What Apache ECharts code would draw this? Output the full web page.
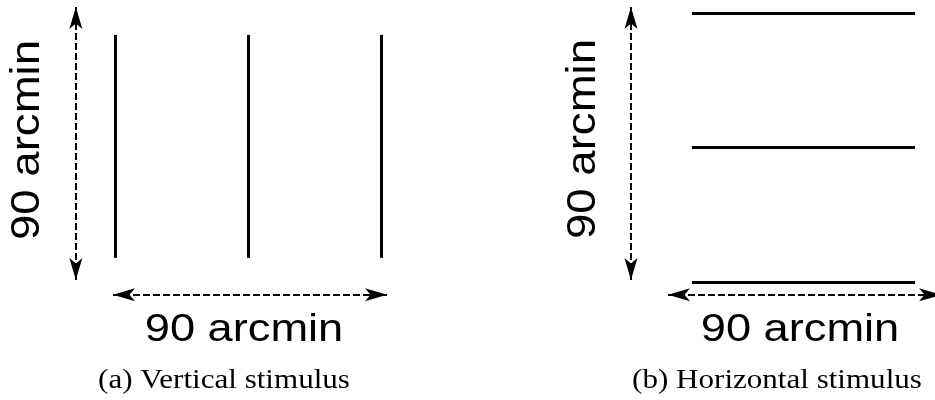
<!DOCTYPE html>
<html><head><meta charset="utf-8">
<script src="https://cdn.jsdelivr.net/npm/echarts@6/dist/echarts.min.js"></script>
<style>html,body{margin:0;padding:0;background:#fff}#c{width:935px;height:400px}</style>
</head><body><div id="c"></div>
<script>
// All values in arcmin (each panel spans 0..90 arcmin along both arrows)
const span = [0, 90];
// (a) vertical stimulus: three vertical bars
const vBarX = [0.7, 44.3, 88.0];
const vBarY = [7.3, 80.8];
// (b) horizontal stimulus: three horizontal bars
const hBarY = [88.0, 43.9, -0.7];
const hBarX = [7.9, 81.4];
// dimension arrows positions (outside the stimulus)
const vArrowX = -12.2;
const hArrowY = -4.9;
const sizeLabel = '90 arcmin';
const captions = ['(a) Vertical stimulus', '(b) Horizontal stimulus'];

// arrowhead pointing up; tip sits at the centre of the symbol box
const arrowPath = 'path://M0,-20 M10,20 M5,0 L10,20 L5,15 L0,20 Z';

function panelSeries(idx, bars) {
  const arrows = [
    [[vArrowX, span[0]], [vArrowX, span[1]]],
    [[span[0], hArrowY], [span[1], hArrowY]]
  ];
  const heads = [
    { value: arrows[0][0], symbolRotate: 180 },
    { value: arrows[0][1], symbolRotate: 0 },
    { value: arrows[1][0], symbolRotate: 90 },
    { value: arrows[1][1], symbolRotate: -90 }
  ];
  return [
    {
      type: 'lines', coordinateSystem: 'cartesian2d', xAxisIndex: idx, yAxisIndex: idx,
      clip: false, silent: true, polyline: false,
      symbol: ['none', 'none'],
      lineStyle: { color: '#000', width: 3, type: 'solid', opacity: 1 },
      data: bars
    },
    {
      type: 'lines', coordinateSystem: 'cartesian2d', xAxisIndex: idx, yAxisIndex: idx,
      clip: false, silent: true, polyline: false,
      symbol: ['none', 'none'],
      lineStyle: { color: '#000', width: 2, type: [7, 3], opacity: 1 },
      data: arrows.map(c => ({ coords: c }))
    },
    {
      type: 'scatter', xAxisIndex: idx, yAxisIndex: idx, clip: false, silent: true,
      symbol: arrowPath, symbolSize: [13, 44],
      itemStyle: { color: '#000', opacity: 1 },
      data: heads, z: 5
    }
  ];
}

const barsA = vBarX.map(x => ({ coords: [[x, vBarY[0]], [x, vBarY[1]]] }));
const barsB = hBarY.map(y => ({ coords: [[hBarX[0], y], [hBarX[1], y]] }));

function txt(text, x, y, font, size, sx, rot) {
  return {
    type: 'text', x: x, y: y, rotation: rot || 0, scaleX: sx, scaleY: 1, silent: true,
    style: { text: text, fontFamily: font, fontSize: size, fill: '#000', align: 'center', verticalAlign: 'middle' }
  };
}

const chart = echarts.init(document.getElementById('c'), null, { renderer: 'canvas' });
chart.setOption({
  animation: false,
  backgroundColor: '#fff',
  grid: [
    { left: 113, top: 7, width: 274, height: 273 },
    { left: 668, top: 7, width: 267, height: 273 }
  ],
  xAxis: [
    { type: 'value', gridIndex: 0, min: span[0], max: span[1], show: false },
    { type: 'value', gridIndex: 1, min: span[0], max: 88.0, show: false }
  ],
  yAxis: [0, 1].map(i => ({ type: 'value', gridIndex: i, min: span[0], max: span[1], show: false })),
  series: panelSeries(0, barsA).concat(panelSeries(1, barsB)),
  graphic: [
    txt(sizeLabel, 28, 140, '"Liberation Sans", Arial, sans-serif', 40, 1.14, Math.PI / 2),
    txt(sizeLabel, 584, 139, '"Liberation Sans", Arial, sans-serif', 40, 1.14, Math.PI / 2),
    txt(sizeLabel, 244, 331, '"Liberation Sans", Arial, sans-serif', 38, 1.19, 0),
    txt(sizeLabel, 800, 331, '"Liberation Sans", Arial, sans-serif', 38, 1.19, 0),
    txt(captions[0], 224, 381, '"Liberation Serif", serif', 27, 1.15, 0),
    txt(captions[1], 777, 381, '"Liberation Serif", serif', 27, 1.15, 0)
  ]
});
</script></body></html>
